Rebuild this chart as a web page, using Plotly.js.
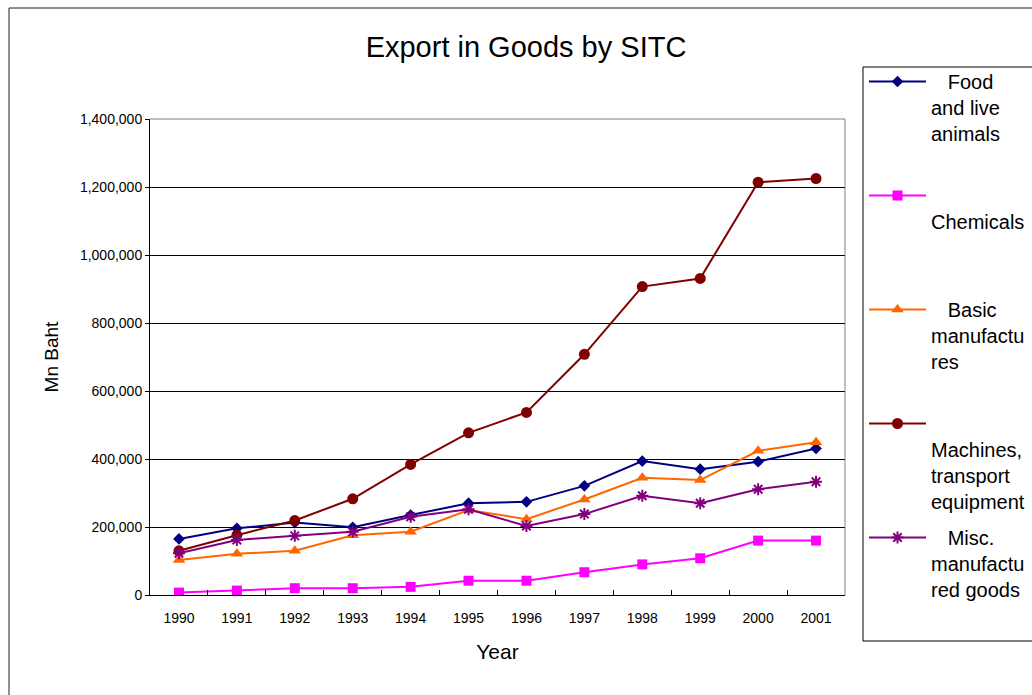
<!DOCTYPE html>
<html>
<head>
<meta charset="utf-8">
<script src="https://cdn.plot.ly/plotly-3.0.1.min.js"></script>
<style>
html, body { margin: 0; padding: 0; overflow: hidden; background: #fff; }
#chart { width: 1060px; height: 695px; }
</style>
</head>
<body>
<div id="chart"></div>
<script>
// ---- data (Mn Baht) ----
const years = ['1990','1991','1992','1993','1994','1995','1996','1997','1998','1999','2000','2001'];
const foodLiveAnimals = [165000, 196000, 213000, 199000, 235000, 270000, 274000, 321000, 394000, 370000, 392000, 431000];
const chemicals = [7000, 13000, 20000, 20000, 24000, 42000, 42000, 67000, 90000, 108000, 160000, 160000];
const basicManufactures = [103000, 121000, 130000, 176000, 186000, 250000, 223000, 281000, 345000, 338000, 424000, 449000];
const machinesTransport = [130000, 176000, 219000, 283000, 384000, 477000, 537000, 708000, 907000, 931000, 1214000, 1225000];
const miscManufactured = [123000, 162000, 174000, 186000, 230000, 252000, 203000, 238000, 292000, 270000, 311000, 333000];

const NB = '\u00a0';
const legendNames = [
  NB+NB+NB+'Food<br>and live<br>animals<br>'+NB,
  NB+'<br>Chemicals<br>'+NB+'<br>'+NB,
  NB+NB+NB+'Basic<br>manufactu<br>res<br>'+NB,
  NB+'<br>Machines,<br>transport<br>equipment',
  NB+NB+NB+'Misc.<br>manufactu<br>red goods<br>'+NB
];

// ---- layout geometry ----
const W = 1060, H = 695;
const L = 150, R = 215, T = 119, B = 100;
const plotW = W - L - R, plotH = H - T - B;
const px = x => (x - L) / plotW;
const py = y => (H - B - y) / plotH;
const FONT = 'Liberation Sans, Arial, sans-serif';

function series(name, y, color, symbol, size, group) {
  return {
    type: 'scatter', mode: 'lines+markers', x: years, y: y, name: name,
    legendgroup: group,
    line: { color: color, width: 2 },
    marker: { color: color, symbol: symbol, size: size, line: { color: color, width: symbol.indexOf('open') >= 0 ? 2 : 0 } },
    hoverinfo: 'x+y'
  };
}

const data = [
  series(legendNames[0], foodLiveAnimals, '#000080', 'diamond', 9, 'g1'),
  series(legendNames[1], chemicals, '#FF00FF', 'square', 10, 'g2'),
  series(legendNames[2], basicManufactures, '#FF6600', 'triangle-up', 11, 'g3'),
  series(legendNames[3], machinesTransport, '#800000', 'circle', 11, 'g4'),
  series(legendNames[4], miscManufactured, '#800080', 'asterisk-open', 10, 'g5')
];

const layout = {
  width: W, height: H,
  margin: { l: L, r: R, t: T, b: B, autoexpand: false },
  paper_bgcolor: '#fff', plot_bgcolor: '#fff',
  font: { family: FONT, color: '#000' },
  title: {
    text: 'Export in Goods by SITC',
    font: { family: FONT, size: 29, color: '#000' },
    xref: 'container', x: 526 / W, xanchor: 'center',
    yref: 'container', y: 1 - 47 / H, yanchor: 'middle'
  },
  xaxis: {
    type: 'category', range: [-0.5, 11.5],
    showline: true, linecolor: '#000', linewidth: 1,
    ticks: 'inside', tickson: 'boundaries', ticklen: 5, tickcolor: '#000',
    ticklabelstandoff: 10,
    tickfont: { family: FONT, size: 14, color: '#000' },
    showgrid: false, zeroline: false, fixedrange: true,
    title: { text: 'Year', font: { family: FONT, size: 21, color: '#000' }, standoff: 19 }
  },
  yaxis: {
    range: [0, 1400000], dtick: 200000, tickformat: ',',
    showgrid: true, gridcolor: '#000', gridwidth: 1,
    showline: true, linecolor: '#000', linewidth: 1,
    ticks: 'outside', ticklen: 4, tickcolor: '#000',
    tickfont: { family: FONT, size: 14, color: '#000' },
    zeroline: false, fixedrange: true,
    title: { text: 'Mn Baht', font: { family: FONT, size: 19, color: '#000' }, standoff: 16 }
  },
  legend: {
    x: px(863), y: py(61), xanchor: 'left', yanchor: 'top',
    bgcolor: 'rgba(0,0,0,0)', bordercolor: 'rgba(0,0,0,0)', borderwidth: 1,
    font: { family: FONT, size: 20, color: '#000' },
    itemwidth: 57, valign: 'top', traceorder: 'grouped', tracegroupgap: 7,
    maxheight: 680,
    itemclick: false, itemdoubleclick: false
  },
  shapes: [
    // outer chart frame
    { type: 'rect', xref: 'paper', yref: 'paper', x0: px(9), x1: px(1150), y0: py(760), y1: py(8),
      line: { color: '#222', width: 1 }, fillcolor: 'rgba(0,0,0,0)', layer: 'below' },
    // legend box
    { type: 'rect', xref: 'paper', yref: 'paper', x0: px(863), x1: px(1150), y0: py(641), y1: py(67),
      line: { color: '#000', width: 1 }, fillcolor: '#fff', layer: 'below' },
    // grey top/right border of plot area
    { type: 'path', xref: 'paper', yref: 'paper', path: 'M0,1 L1,1 L1,0',
      line: { color: '#808080', width: 1 }, layer: 'above' }
  ],
  showlegend: true,
  hovermode: 'closest'
};

Plotly.newPlot('chart', data, layout, { displayModeBar: false, responsive: false });
</script>
</body>
</html>
